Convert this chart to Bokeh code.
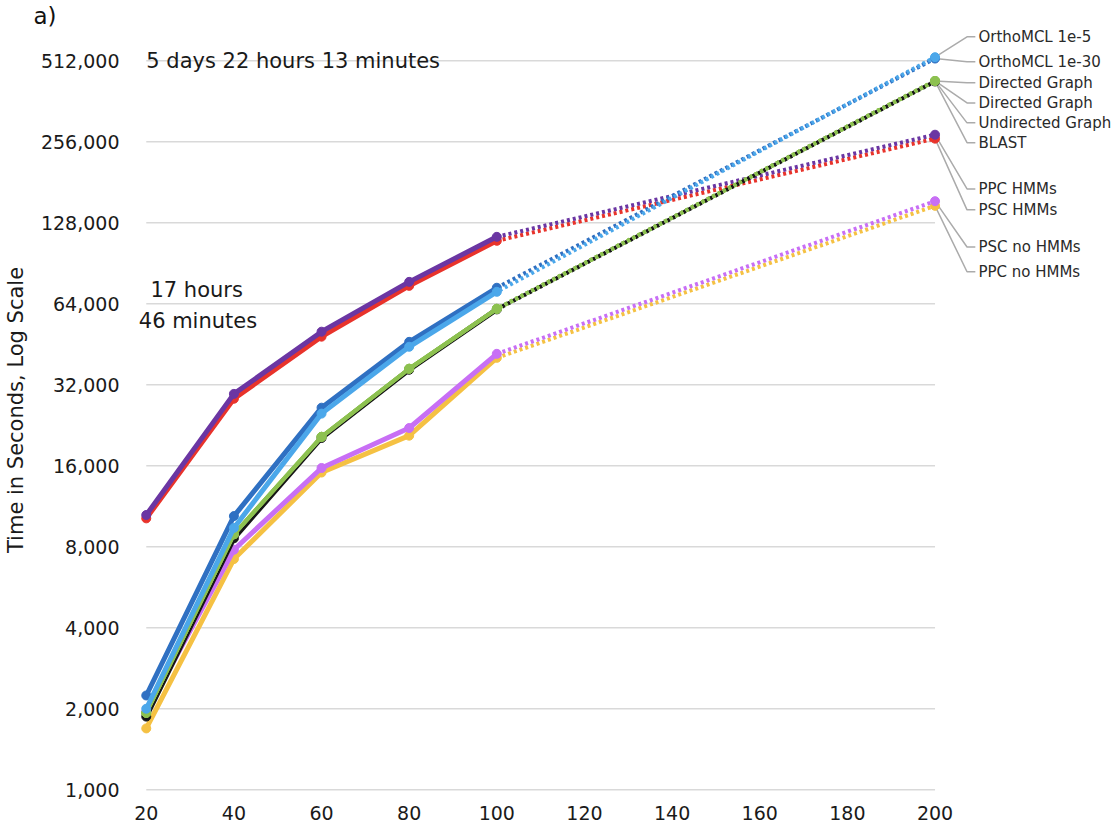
from bokeh.plotting import figure
from bokeh.models import Range1d, FixedTicker, NumeralTickFormatter
from bokeh.core.properties import value
from bokeh.embed import file_html
from bokeh.resources import INLINE

# ---------------- data ----------------
x_vals = [20, 40, 60, 80, 100, 200]
x_ticks = [20, 40, 60, 80, 100, 120, 140, 160, 180, 200]
y_ticks = [1000, 2000, 4000, 8000, 16000, 32000, 64000, 128000, 256000, 512000]

ortho_1e5 = [2000, 9400, 25000, 44300, 70900, 528000]
ortho_1e30 = [2240, 10400, 26300, 46200, 73400, 522000]
directed_graph = [1930, 8900, 20500, 36700, 61300, 431000]
directed_graph_2 = [1930, 8900, 20500, 36700, 61300, 431000]
undirected_graph = [1930, 8900, 20500, 36700, 61300, 431000]
blast = [1870, 8600, 20300, 36400, 61000, 429000]
ppc_hmms = [10500, 29600, 50400, 77200, 113500, 272000]
psc_hmms = [10200, 28400, 48300, 74600, 109700, 263000]
psc_no_hmms = [1950, 7800, 15700, 22100, 41700, 154000]
ppc_no_hmms = [1690, 7200, 15100, 20700, 40300, 148000]

# draw order bottom -> top: (label, values, colour, label y-position, dash offset)
series = [
    ("PPC no HMMs", ppc_no_hmms, "#f5c143", 84200, 0),
    ("PSC no HMMs", psc_no_hmms, "#c86ff5", 104000, 0),
    ("PSC HMMs", psc_hmms, "#e8332b", 143000, 0),
    ("PPC HMMs", ppc_hmms, "#6b36a3", 171000, 0),
    ("BLAST", blast, "#161616", 254000, 0),
    ("Undirected Graph", undirected_graph, "#8dc150", 301000, 3),
    ("Directed Graph", directed_graph_2, "#8dc150", 357000, 3),
    ("Directed Graph", directed_graph, "#8dc150", 424000, 3),
    ("OrthoMCL 1e-30", ortho_1e30, "#2f70c2", 508000, 0),
    ("OrthoMCL 1e-5", ortho_1e5, "#4ba7ea", 628600, 3),
]

FONT = "DejaVu Sans"

p = figure(width=1115, height=832, y_axis_type="log",
           x_range=Range1d(18, 240.5), y_range=Range1d(985, 675000),
           output_backend="svg", toolbar_location=None,
           min_border_left=132, min_border_right=3,
           min_border_top=25, min_border_bottom=41)
p.outline_line_color = None
p.xgrid.visible = False
p.ygrid.visible = False

p.title.text = "a)"
p.title.text_font = FONT
p.title.text_font_size = "23px"
p.title.text_font_style = "normal"
p.title.text_color = "#111111"
p.title.align = "left"
p.title.offset = -104
p.title.standoff = 0

# axes
p.xaxis.ticker = FixedTicker(ticks=x_ticks)
p.yaxis.ticker = FixedTicker(ticks=y_ticks)
p.yaxis.formatter = NumeralTickFormatter(format="0,0")
for ax in (p.xaxis, p.yaxis):
    ax.axis_line_color = None
    ax.major_tick_line_color = None
    ax.minor_tick_line_color = None
    ax.major_label_text_font = FONT
    ax.major_label_text_font_size = "19px"
    ax.major_label_text_color = "#1a1a1a"
p.yaxis.major_label_standoff = 12
p.xaxis.major_label_standoff = 8
p.yaxis.axis_label = "Time in Seconds, Log Scale"
p.yaxis.axis_label_text_font = FONT
p.yaxis.axis_label_text_font_size = "21px"
p.yaxis.axis_label_text_font_style = "normal"
p.yaxis.axis_label_text_color = "#1a1a1a"
p.yaxis.axis_label_standoff = 10

# grid lines from 20 to 200
p.segment(x0=[x_ticks[0]] * len(y_ticks), x1=[x_ticks[-1]] * len(y_ticks),
          y0=y_ticks, y1=y_ticks, line_color="#d9d9d9", line_width=1.5)

# leader lines for labels
lead_xs, lead_ys = [], []
for name, vals, col, ly, off in series:
    lead_xs.append([x_vals[-1], 207.3, 209.2])
    lead_ys.append([vals[-1], ly, ly])
p.multi_line(xs=lead_xs, ys=lead_ys, line_color="#ababab", line_width=1.5)

# series
for name, vals, col, ly, off in series:
    w = 4 if col == "#8dc150" else 5
    p.line(x_vals[:5], vals[:5], line_color=col, line_width=w, line_join="round")
    p.line(x_vals[4:], vals[4:], line_color=col, line_width=4,
           line_dash="3 3", line_dash_offset=off)
    p.scatter(x_vals, vals, size=9, fill_color=col, line_color=col)

# right-hand labels
p.text(x=[209.9] * len(series), y=[s[3] for s in series], text=[s[0] for s in series],
       text_font=value(FONT), text_font_size="15px", text_color="#2a2a2a",
       text_baseline="middle", text_align="left")

# annotations
p.text(x=[20], y=[512000], text=["5 days 22 hours 13 minutes"],
       text_font=value(FONT), text_font_size="21px", text_color="#1a1a1a",
       text_baseline="middle", text_align="left")
p.text(x=[31.5, 31.8], y=[72000, 55300], text=["17 hours", "46 minutes"],
       text_font=value(FONT), text_font_size="21px", text_color="#1a1a1a",
       text_baseline="middle", text_align="center")

open("out.html", "w").write(file_html(p, INLINE))
